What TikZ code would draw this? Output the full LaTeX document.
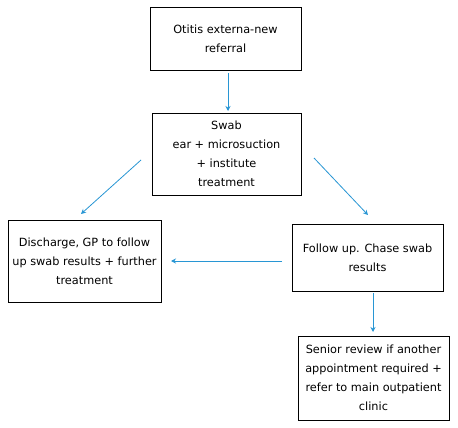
\documentclass[tikz,border=0pt]{standalone}
\usepackage{fontspec}
\setmainfont{DejaVu Sans}
\usetikzlibrary{arrows.meta}
\definecolor{arrowblue}{RGB}{40,150,212}
\begin{document}
\begin{tikzpicture}[x=1pt,y=-1pt,
  box/.style={draw=black,line width=0.9pt,rectangle,align=center,inner sep=0pt,
    font=\fontsize{11.3pt}{19pt}\selectfont},
  flow/.style={draw=arrowblue,line width=0.8pt,-{Stealth[length=5pt,width=5pt]}}]
\useasboundingbox (0,0) rectangle (458,428);
\fill[white] (0,0) rectangle (458,428);
\node[box,minimum width=151pt,minimum height=63pt] (b1) at (225.5,38.5) {Otitis externa-new\\referral};
\node[box,minimum width=149pt,minimum height=82pt] (b2) at (226.5,154) {Swab\\ear + microsuction\\+ institute\\treatment};
\node[box,minimum width=153pt,minimum height=82pt] (b3) at (84.5,261) {Discharge, GP to follow\\up swab results + further\\treatment};
\node[box,minimum width=151pt,minimum height=67pt] (b4) at (367.5,257.5) {Follow up. Chase swab\\results};
\node[box,minimum width=151pt,minimum height=84pt] (b5) at (373.5,378) {Senior review if another\\appointment required +\\refer to main outpatient\\clinic};
\coordinate (t0) at (228,73);
\coordinate (t1) at (228,111);
\coordinate (l0) at (141,160);
\coordinate (l1) at (81,214);
\coordinate (r0) at (314,158);
\coordinate (r1) at (368,215);
\coordinate (h0) at (282,261);
\coordinate (h1) at (171,261);
\coordinate (v0) at (373,293);
\coordinate (v1) at (373,332);
\draw[flow] (t0) -- (t1);
\draw[flow] (l0) -- (l1);
\draw[flow] (r0) -- (r1);
\draw[flow] (h0) -- (h1);
\draw[flow] (v0) -- (v1);
\end{tikzpicture}
\end{document}
